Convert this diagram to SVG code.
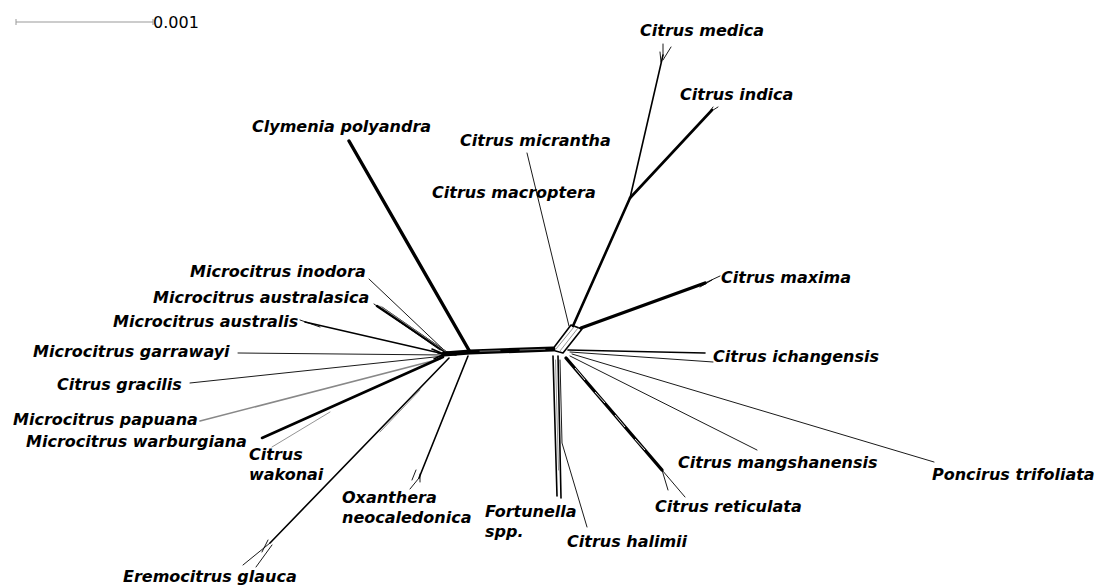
<svg xmlns="http://www.w3.org/2000/svg" width="1097" height="586" viewBox="0 0 1097 586">
<style>
.lbl{font-family:"DejaVu Sans","Liberation Sans",sans-serif;font-weight:bold;font-style:italic;font-size:16px;fill:#000}
.sc{font-family:"DejaVu Sans","Liberation Sans",sans-serif;font-size:16px;fill:#000}
.e{fill:none;stroke:#000;stroke-linecap:round;stroke-linejoin:round}
.g{fill:none;stroke:#888;stroke-linecap:round}
.w{fill:none;stroke:#fff;stroke-linecap:butt}
.t1{stroke-width:0.9}
.t2{stroke-width:1.6}
.t3{stroke-width:2.6}
.t4{stroke-width:3.4}
.t5{stroke-width:5}
</style>
<rect width="1097" height="586" fill="#fff"/>
<g id="scale">
<path d="M16,22 H153 M16,19 V25 M153,19 V25" stroke="#999" stroke-width="1" fill="none"/>
<text class="sc" x="153" y="28">0.001</text>
</g>
<g id="connectors">
<!-- central bar -->
<path class="e t5" d="M444,354 L470,352 L553,349"/>
<path class="g t1" d="M480,351.2 L500,350.7 M520,350 L545,349.3"/>
<!-- left hub -->
<path class="e t2" d="M432,349 L446,355 M434,359 L448,352 M438,353 L456,355"/>
<path class="e t4" d="M349,141 L470,352"/>
<path class="e t1" d="M369,279 L446,352"/>
<path class="e t3" d="M377,306 L444,351"/>
<path class="e t1" d="M382,307 L447,352 M374,304 L440,350"/>
<path class="g t1" d="M380,306 L445,351"/>
<path class="e t2" d="M305,322 L444,354"/>
<path class="e t1" d="M300,320 L320,327"/>
<path class="e t1" d="M238,353 L444,355"/>
<path class="e t1" d="M190,383 L444,356"/>
<path class="g t2" d="M200,421 L440,359"/>
<path class="e t3" d="M262,438 L443,357"/>
<path class="g t1" d="M272,447 L330,412"/>
<path class="e t2" d="M449,358 L270,543"/>
<path class="g t1" d="M420,390 L380,432"/>
<path class="e t1" d="M270,543 L243,565 M272,545 L256,567 M268,540 L262,552"/>
<path class="e t2" d="M468,356 L419,478"/>
<path class="e t1" d="M419,478 L410,489 M420,474 L420,482 M416,470 L412,480"/>
<!-- right hub -->
<path class="e t2" d="M552,350 L571,325 L582,329 L563,353 Z"/>
<path class="g t1" d="M556,349 L574,327 M560,351 L578,328"/>
<path class="e t3" d="M573,326 L630,198"/>
<path class="e t2" d="M630,198 L663,55"/>
<path class="e t1" d="M663,55 L663,44 M663,60 L671,47 M661,62 L660,52"/>
<path class="e t3" d="M630,198 L712,110"/>
<path class="e t1" d="M710,112 L718,107 M708,114 L713,107"/>
<path class="e t1" d="M569,326 L527,153"/>
<path class="e t4" d="M581,328 L705,283"/>
<path class="e t1" d="M705,283 L720,276 M700,287 L712,280"/>
<path class="e t2" d="M568,350 L705,353"/>
<path class="e t1" d="M570,352 L713,362"/>
<path class="e t1" d="M572,354 L934,462"/>
<path class="e t1" d="M570,356 L757,450"/>
<path class="e t4" d="M566,358 L662,470"/>
<path class="w t1" d="M575,368 L585,380 M595,392 L605,403 M615,415 L625,427 M635,439 L645,450"/>
<path class="e t1" d="M662,470 L668,490 M662,470 L685,497"/>
<path class="e t2" d="M553,356 L557,496 M558,356 L561,498"/>
<path class="g t1" d="M555.5,360 L558.5,470"/>
<path class="e t1" d="M560,360 L562,443 L587,527"/>
</g>
<g id="n-medica"><text class="lbl" x="640" y="36">Citrus medica</text></g>
<g id="n-indica"><text class="lbl" x="680" y="100">Citrus indica</text></g>
<g id="n-clymenia"><text class="lbl" x="252" y="132">Clymenia polyandra</text></g>
<g id="n-micrantha"><text class="lbl" x="460" y="146">Citrus micrantha</text></g>
<g id="n-macroptera"><text class="lbl" x="432" y="198">Citrus macroptera</text></g>
<g id="n-inodora"><text class="lbl" x="190" y="277">Microcitrus inodora</text></g>
<g id="n-australasica"><text class="lbl" x="153" y="303">Microcitrus australasica</text></g>
<g id="n-australis"><text class="lbl" x="113" y="327">Microcitrus australis</text></g>
<g id="n-garrawayi"><text class="lbl" x="33" y="357">Microcitrus garrawayi</text></g>
<g id="n-gracilis"><text class="lbl" x="57" y="390">Citrus gracilis</text></g>
<g id="n-papuana"><text class="lbl" x="13" y="425">Microcitrus papuana</text></g>
<g id="n-warburgiana"><text class="lbl" x="26" y="447">Microcitrus warburgiana</text></g>
<g id="n-wakonai"><text class="lbl" x="249" y="460">Citrus</text><text class="lbl" x="249" y="480">wakonai</text></g>
<g id="n-oxanthera"><text class="lbl" x="342" y="503">Oxanthera</text><text class="lbl" x="342" y="523">neocaledonica</text></g>
<g id="n-eremocitrus"><text class="lbl" x="123" y="582">Eremocitrus glauca</text></g>
<g id="n-fortunella"><text class="lbl" x="485" y="517">Fortunella</text><text class="lbl" x="485" y="537">spp.</text></g>
<g id="n-halimii"><text class="lbl" x="567" y="547">Citrus halimii</text></g>
<g id="n-maxima"><text class="lbl" x="721" y="283">Citrus maxima</text></g>
<g id="n-ichangensis"><text class="lbl" x="713" y="362">Citrus ichangensis</text></g>
<g id="n-mangshanensis"><text class="lbl" x="678" y="468">Citrus mangshanensis</text></g>
<g id="n-poncirus"><text class="lbl" x="932" y="480">Poncirus trifoliata</text></g>
<g id="n-reticulata"><text class="lbl" x="655" y="512">Citrus reticulata</text></g>
</svg>
